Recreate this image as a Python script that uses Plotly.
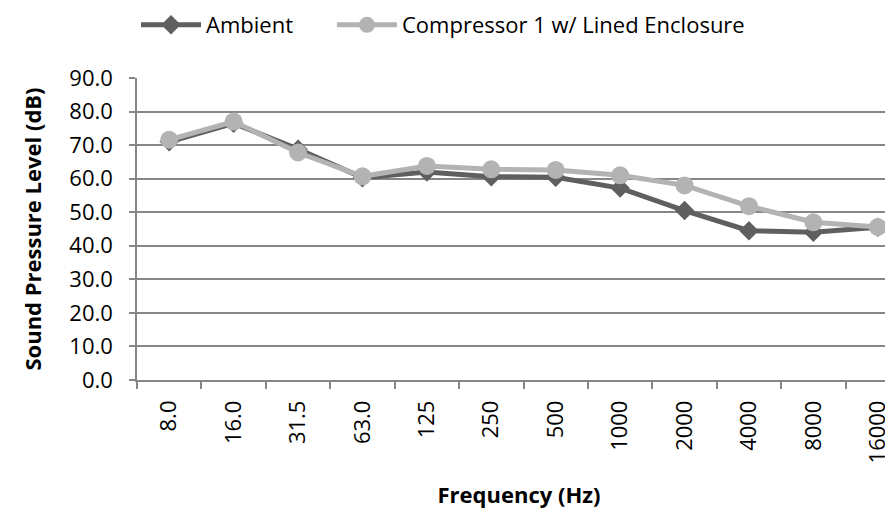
import plotly.graph_objects as go

categories = ["8.0", "16.0", "31.5", "63.0", "125", "250", "500", "1000", "2000", "4000", "8000", "16000"]
ambient = [71.0, 76.5, 68.8, 60.3, 62.0, 60.6, 60.4, 57.2, 50.5, 44.5, 44.0, 45.5]
compressor = [71.6, 77.0, 67.8, 60.7, 63.8, 62.8, 62.6, 61.0, 58.0, 51.8, 47.0, 45.6]
y_ticks = [0, 10, 20, 30, 40, 50, 60, 70, 80, 90]

FONT = "Open Sans"
FS = 22
GRID = "#868686"
W, H = 893, 519
x_idx = list(range(len(categories)))

fig = go.Figure()
fig.add_trace(go.Scatter(
    x=x_idx, y=ambient, name="Ambient", mode="lines+markers",
    line=dict(color="#5f5f5f", width=5),
    marker=dict(symbol="diamond", size=15, color="#5f5f5f"),
    legend="legend",
))
fig.add_trace(go.Scatter(
    x=x_idx, y=compressor, name="Compressor 1 w/ Lined Enclosure", mode="lines+markers",
    line=dict(color="#b3b3b3", width=5),
    marker=dict(symbol="circle", size=18, color="#b3b3b3"),
    legend="legend2",
))

fig.update_layout(
    width=W, height=H,
    margin=dict(l=129, r=0, t=70, b=147, autoexpand=False),
    paper_bgcolor="white", plot_bgcolor="white",
    font=dict(family=FONT, size=FS, color="black"),
    showlegend=True,
    legend=dict(orientation="h", xref="container", yref="container",
                x=128 / W, y=1 - 17 / H, xanchor="left", yanchor="middle",
                font=dict(size=FS), itemwidth=60, bgcolor="rgba(0,0,0,0)"),
    legend2=dict(orientation="h", xref="container", yref="container",
                 x=324 / W, y=1 - 17 / H, xanchor="left", yanchor="middle",
                 font=dict(size=FS), itemwidth=60, bgcolor="rgba(0,0,0,0)"),
    xaxis=dict(
        range=[-0.5, 11.36], automargin=False,
        tickmode="array", tickvals=x_idx, ticktext=categories,
        tickangle=-90, showgrid=False, zeroline=False,
        showline=True, linecolor=GRID, linewidth=1.5,
        ticks="", ticklabelstandoff=10,
        title=dict(text="<b>Frequency (Hz)</b>", font=dict(size=FS), standoff=25),
        minor=dict(tickmode="array", tickvals=[i - 0.5 for i in range(len(categories) + 1)],
                   ticks="outside", ticklen=7, tickcolor=GRID, tickwidth=1.5, showgrid=False),
    ),
    yaxis=dict(
        range=[0, 90], automargin=False, tickmode="array", tickvals=y_ticks,
        ticktext=[f"{v:.1f}" for v in y_ticks],
        showgrid=True, gridcolor=GRID, gridwidth=1.5,
        zeroline=False, showline=True, linecolor=GRID, linewidth=1.5,
        ticks="outside", ticklen=6, tickcolor=GRID, tickwidth=1.5,
        ticklabelstandoff=12,
        title=dict(text="<b>Sound Pressure Level (dB)</b>", font=dict(size=FS), standoff=22),
    ),
)

fig.write_html("out.html")
